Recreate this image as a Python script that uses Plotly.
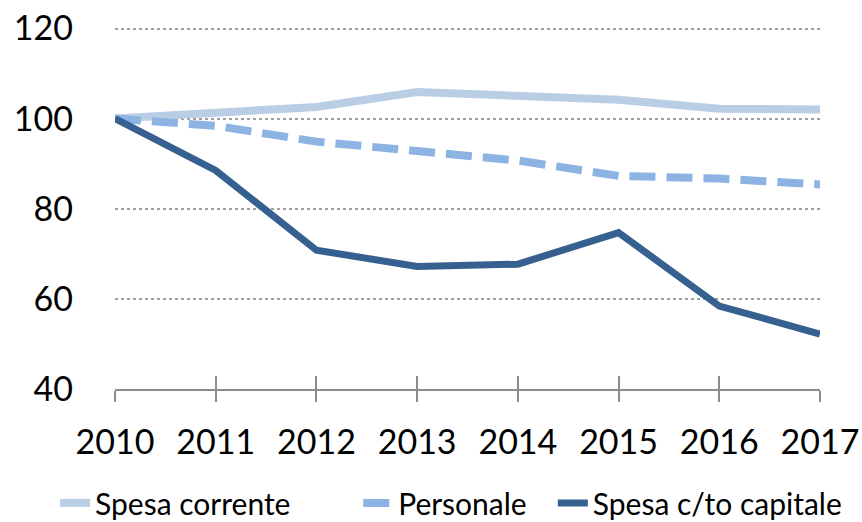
import plotly.graph_objects as go

years = [2010, 2011, 2012, 2013, 2014, 2015, 2016, 2017]
spesa_corrente = [100, 101.3, 102.6, 105.9, 105.0, 104.2, 102.2, 102.0]
personale = [100, 98.4, 94.9, 92.7, 90.7, 87.3, 86.7, 85.4]
spesa_capitale = [100, 88.5, 70.8, 67.2, 67.7, 74.7, 58.4, 52.2]
y_ticks = [40, 60, 80, 100, 120]

legend_font = dict(family="Lato, Open Sans, sans-serif", size=30, color="black")

fig = go.Figure()
fig.add_trace(go.Scatter(x=years, y=spesa_corrente, mode="lines", name="Spesa corrente",
                         line=dict(color="#b9cde5", width=8), legend="legend"))
fig.add_trace(go.Scatter(x=years, y=personale, mode="lines", name="Personale",
                         line=dict(color="#8db3e2", width=8, dash="26px,11px"), legend="legend2"))
fig.add_trace(go.Scatter(x=years, y=spesa_capitale, mode="lines", name="Spesa c/to capitale",
                         line=dict(color="#36608f", width=7), legend="legend3"))
fig.add_trace(go.Scatter(x=[years[0]], y=[None], xaxis="x2", showlegend=False, hoverinfo="skip"))

def leg(x):
    return dict(orientation="h", x=x, xanchor="left", y=-0.312, yanchor="middle",
                font=legend_font, bgcolor="rgba(0,0,0,0)", borderwidth=0)

fig.update_layout(
    width=862, height=522,
    margin=dict(l=115, r=42, t=23.5, b=133, autoexpand=False),
    paper_bgcolor="white", plot_bgcolor="white",
    font=dict(family="Lato, Open Sans, sans-serif", color="black"),
    showlegend=True,
    legend=leg(-0.085), legend2=leg(0.345), legend3=leg(0.621),
    xaxis=dict(range=[2010, 2017], tickvals=years, ticktext=[str(y) for y in years],
               showgrid=False, zeroline=False, showline=True, linecolor="#8c8c8c", linewidth=2,
               ticks="outside", ticklen=11, tickwidth=2, tickcolor="#8c8c8c",
               tickfont=dict(size=34), ticklabelstandoff=11, automargin=False),
    xaxis2=dict(range=[2010, 2017], tickvals=years, overlaying="x", anchor="y",
                showgrid=False, zeroline=False, showline=False, showticklabels=False,
                ticks="inside", ticklen=13, tickwidth=2, tickcolor="#8c8c8c", automargin=False),
    yaxis=dict(range=[40, 121], tickvals=y_ticks, showgrid=True, gridcolor="#a0a0a0",
               griddash="dot", gridwidth=1.5, zeroline=False, showline=False,
               tickfont=dict(size=34), ticklabelstandoff=41, automargin=False),
)

fig.write_html("out.html", config={"displayModeBar": False},
               post_script="document.body.style.margin='0';document.body.style.overflow='hidden';")
